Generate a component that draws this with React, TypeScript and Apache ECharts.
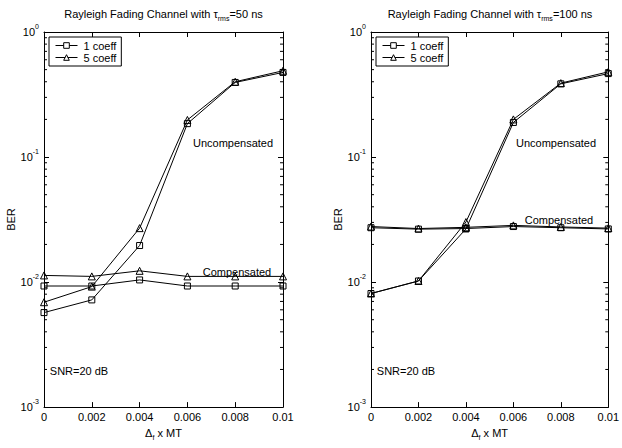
import React, { useEffect, useRef } from "react";
import * as echarts from "echarts";

const xValues = [0, 0.002, 0.004, 0.006, 0.008, 0.01];
const xTickLabels = ["0", "0.002", "0.004", "0.006", "0.008", "0.01"];
const yTickExponents = [-3, -2, -1, 0];

// Left panel: tau_rms = 50 ns
const left1Uncomp = [0.0057, 0.0072, 0.0196, 0.185, 0.395, 0.475];
const left5Uncomp = [0.0069, 0.0092, 0.027, 0.198, 0.4, 0.49];
const left1Comp = [0.0093, 0.0093, 0.0104, 0.0093, 0.0093, 0.0093];
const left5Comp = [0.0113, 0.0111, 0.0123, 0.0111, 0.0111, 0.0111];

// Right panel: tau_rms = 100 ns
const right1Uncomp = [0.0081, 0.0102, 0.0266, 0.189, 0.385, 0.465];
const right5Uncomp = [0.0081, 0.0102, 0.0302, 0.2, 0.39, 0.48];
const right1Comp = [0.0272, 0.0265, 0.0268, 0.0278, 0.0272, 0.0266];
const right5Comp = [0.0278, 0.0268, 0.0274, 0.0284, 0.0276, 0.027];

const minorTickValues = [
  0.002, 0.003, 0.004, 0.005, 0.006, 0.007, 0.008, 0.009,
  0.02, 0.03, 0.04, 0.05, 0.06, 0.07, 0.08, 0.09,
  0.2, 0.3, 0.4, 0.5, 0.6, 0.7, 0.8, 0.9,
];

const FONT = "Liberation Sans, Arial, Helvetica, sans-serif";

export default function App() {
  const ref = useRef<HTMLDivElement>(null);
  useEffect(() => {
    if (!ref.current) return;
    const chart = echarts.init(ref.current, undefined, { renderer: "svg" });

    const grids = [
      { left: 44, top: 32, width: 239, height: 387 },
      { left: 371, top: 32, width: 238, height: 387 },
    ];

    const subRich = {
      a: { fontSize: 11, fontFamily: FONT, color: "#000", lineHeight: 11, padding: [0, 0, 5, 0] },
      s: { fontSize: 7, fontFamily: FONT, color: "#000", lineHeight: 7, padding: [7, 0, 2, 0] },
    };

    const xAxes: any[] = [];
    const yAxes: any[] = [];
    grids.forEach((_, gi) => {
      xAxes.push({
        type: "value",
        gridIndex: gi,
        min: 0,
        max: 0.01,
        interval: 0.002,
        position: "bottom",
        axisLine: { show: true, onZero: false, lineStyle: { color: "#000", width: 1 } },
        axisTick: { show: true, inside: true, length: 5, lineStyle: { color: "#000" } },
        axisLabel: {
          color: "#000",
          fontSize: 11,
          fontFamily: FONT,
          margin: 4,
          formatter: (v: number) => {
            const idx = xValues.findIndex((x) => Math.abs(x - v) < 1e-9);
            return idx >= 0 ? xTickLabels[idx] : "";
          },
        },
        splitLine: { show: false },
        name: "{a|Δ}{s|f}{a| x MT}",
        nameLocation: "middle",
        nameGap: 16,
        nameTextStyle: { color: "#000", fontFamily: FONT, rich: subRich },
      });
      xAxes.push({
        type: "value",
        gridIndex: gi,
        min: 0,
        max: 0.01,
        interval: 0.002,
        position: "top",
        axisLine: { show: true, onZero: false, lineStyle: { color: "#000", width: 1 } },
        axisTick: { show: true, inside: true, length: 5, lineStyle: { color: "#000" } },
        axisLabel: { show: false },
        splitLine: { show: false },
      });
      yAxes.push({
        type: "log",
        logBase: 10,
        gridIndex: gi,
        min: 0.001,
        max: 1,
        position: "left",
        axisLine: { show: true, onZero: false, lineStyle: { color: "#000", width: 1 } },
        axisTick: { show: true, inside: true, length: 5, lineStyle: { color: "#000" } },
        axisLabel: {
          color: "#000",
          margin: 5,
          formatter: (v: number) => {
            const e = Math.round(Math.log10(v));
            if (!yTickExponents.includes(e)) return "";
            return `{b|10}{e|${e}}`;
          },
          rich: {
            b: { fontSize: 11, fontFamily: FONT, color: "#000", lineHeight: 11, padding: [5, 0, 5, 0] },
            e: { fontSize: 7, fontFamily: FONT, color: "#000", lineHeight: 8, padding: [1, 0, 12, 0] },
          },
        },
        splitLine: { show: false },
        name: "BER",
        nameLocation: "middle",
        nameGap: 25,
        nameTextStyle: { color: "#000", fontSize: 11, fontFamily: FONT },
      });
      yAxes.push({
        type: "log",
        logBase: 10,
        gridIndex: gi,
        min: 0.001,
        max: 1,
        position: "right",
        axisLine: { show: true, onZero: false, lineStyle: { color: "#000", width: 1 } },
        axisTick: { show: true, inside: true, length: 5, lineStyle: { color: "#000" } },
        axisLabel: { show: false },
        splitLine: { show: false },
      });
    });

    const lineSeries = (name: string, vals: number[], gi: number, symbol: string, size: number) => ({
      type: "line",
      name,
      xAxisIndex: gi * 2,
      yAxisIndex: gi * 2,
      data: xValues.map((x, i) => [x, vals[i]]),
      symbol,
      symbolSize: size,
      showSymbol: true,
      clip: false,
      lineStyle: { color: "#000", width: 1 },
      itemStyle: { color: "rgba(0,0,0,0)", borderColor: "#000", borderWidth: 1 },
      emphasis: { disabled: true },
      z: 3,
    });

    const minorSeries = (gi: number) => ({
      type: "custom",
      xAxisIndex: gi * 2,
      yAxisIndex: gi * 2,
      data: minorTickValues.map((v) => [0, v]),
      encode: { x: 0, y: 1 },
      clip: false,
      silent: true,
      renderItem: (params: any, api: any) => {
        const v = api.value(1);
        const p0 = api.coord([0, v]);
        const p1 = api.coord([0.01, v]);
        return {
          type: "group",
          children: [
            { type: "line", shape: { x1: p0[0], y1: p0[1], x2: p0[0] + 3, y2: p0[1] }, style: { stroke: "#000", lineWidth: 1 } },
            { type: "line", shape: { x1: p1[0], y1: p1[1], x2: p1[0] - 3, y2: p1[1] }, style: { stroke: "#000", lineWidth: 1 } },
          ],
        };
      },
    });

    const panels = [
      { u1: left1Uncomp, u5: left5Uncomp, c1: left1Comp, c5: left5Comp },
      { u1: right1Uncomp, u5: right5Uncomp, c1: right1Comp, c5: right5Comp },
    ];
    const series: any[] = [];
    panels.forEach((p, gi) => {
      series.push(lineSeries("1 coeff", p.u1, gi, "rect", 6));
      series.push(lineSeries("5 coeff", p.u5, gi, "triangle", 7));
      series.push(lineSeries("1 coeff", p.c1, gi, "rect", 6));
      series.push(lineSeries("5 coeff", p.c5, gi, "triangle", 7));
      series.push(minorSeries(gi));
    });

    const legendBase = (left: number) => ({
      data: ["1 coeff", "5 coeff"],
      orient: "vertical",
      left,
      top: 37,
      padding: [3, 5, 3, 6],
      itemGap: 1,
      itemWidth: 22,
      itemHeight: 7,
      borderColor: "#000",
      borderWidth: 1,
      borderRadius: 0,
      backgroundColor: "#fff",
      selectedMode: false,
      itemStyle: { color: "#fff", borderColor: "#000", borderWidth: 1 },
      lineStyle: { color: "#000", width: 1 },
      textStyle: { color: "#000", fontSize: 11, fontFamily: FONT, padding: [0, 0, 0, 1] },
    });

    const titleRich = {
      a: { fontSize: 11, fontFamily: FONT, fill: "#000", lineHeight: 11, padding: [0, 0, 5, 0] },
      s: { fontSize: 7, fontFamily: FONT, fill: "#000", lineHeight: 7, padding: [7, 0, 2, 0] },
    };

    const txt = (x: number, y: number, text: string) => ({
      type: "text",
      x,
      y,
      style: { text, fill: "#000", fontSize: 11, fontFamily: FONT, align: "center", verticalAlign: "middle" },
      silent: true,
    });

    chart.setOption({
      animation: false,
      backgroundColor: "#fff",
      grid: grids.map((g) => ({ ...g, containLabel: false })),
      xAxis: xAxes,
      yAxis: yAxes,
      legend: [legendBase(49), legendBase(376)],
      series,
      graphic: [
        {
          type: "text",
          x: 163.5,
          y: 16,
          style: { text: "{a|Rayleigh Fading Channel with τ}{s|rms}{a|=50 ns}", rich: titleRich, align: "center", verticalAlign: "middle", fill: "#000" },
          silent: true,
        },
        {
          type: "text",
          x: 490,
          y: 16,
          style: { text: "{a|Rayleigh Fading Channel with τ}{s|rms}{a|=100 ns}", rich: titleRich, align: "center", verticalAlign: "middle", fill: "#000" },
          silent: true,
        },
        txt(233, 142.5, "Uncompensated"),
        txt(556, 142.5, "Uncompensated"),
        txt(237, 272, "Compensated"),
        txt(559, 220, "Compensated"),
        txt(79, 370.5, "SNR=20 dB"),
        txt(406, 370.5, "SNR=20 dB"),
      ],
    });

    return () => chart.dispose();
  }, []);

  return (
    <div
      ref={ref}
      style={{ position: "fixed", left: 0, top: 0, width: 622, height: 448, background: "#fff" }}
    />
  );
}
